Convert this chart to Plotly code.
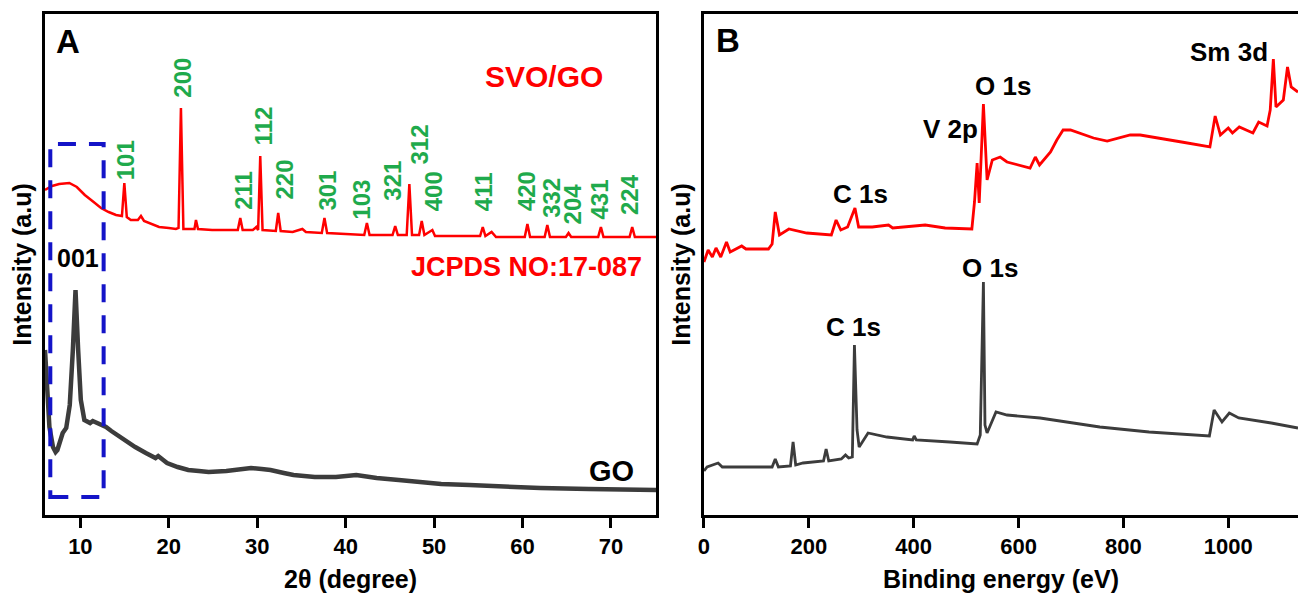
import plotly.graph_objects as go

# ---------------- XRD patterns (panel A) ----------------
svo_go_2theta = [6.0, 6.8, 7.6, 8.75, 9.6, 10.5, 11.5, 12.33, 13.2, 14.03, 14.7, 14.97, 15.25, 15.7,
                 16.5, 16.85, 17.2, 18.0, 18.9, 20.0, 20.8, 21.1, 21.37, 21.65, 22.5, 22.9, 23.07,
                 23.3, 24.9, 27.0, 27.8, 28.08, 28.35, 29.5, 29.9, 30.1, 30.34, 30.6, 31.5, 32.1,
                 32.37, 32.65, 34.0, 35.1, 35.5, 37.3, 37.6, 37.9, 40.0, 42.1, 42.4, 42.7, 45.3,
                 45.6, 45.9, 46.9, 47.2, 47.5, 48.3, 48.6, 48.9, 49.8, 50.1, 53.0, 55.2, 55.5,
                 55.8, 56.5, 57.0, 60.25, 60.55, 60.85, 62.5, 62.8, 63.1, 64.9, 65.2, 65.5, 68.55,
                 68.86, 69.15, 72.1, 72.4, 72.7, 75.1]
svo_go_int = [310, 314, 316, 317, 313, 305, 298, 292, 288, 285, 284, 317, 283, 280,
              280, 284, 279, 276, 273, 272, 271, 272, 392, 271, 271, 271, 280,
              271, 270, 270, 270, 282, 270, 270, 273, 270, 344, 270, 269, 269,
              287, 269, 268, 271, 268, 267, 282, 267, 266, 265, 277, 265, 265,
              274, 265, 265, 316, 265, 265, 279, 265, 270, 264, 264, 264, 273,
              264, 268, 263, 263, 276, 263, 263, 275, 263, 263, 267, 263, 263,
              273, 263, 263, 273, 263, 263]

go_2theta = [6.0, 6.2, 6.5, 6.9, 7.2, 7.4, 7.7, 8.0, 8.4, 8.8, 9.15, 9.45, 9.75, 10.05, 10.45,
             10.8, 11.1, 11.4, 11.7, 12.3, 12.9, 13.5, 14.0, 15.0, 16.2, 17.4, 18.5, 18.8,
             19.8, 21.0, 22.2, 23.4, 24.5, 26.5, 28.0, 29.3, 30.5, 31.5, 33.0, 34.1, 36.5,
             38.9, 41.2, 43.5, 46.0, 48.5, 50.8, 54.0, 57.9, 62.0, 67.5, 72.0, 75.1]
go_int = [150, 110, 73, 53, 48, 50, 58, 67, 72, 95, 150, 210, 150, 100, 80,
          78, 77, 79, 78, 76, 73, 69, 66, 60, 53, 47, 42, 44,
          37, 33, 30, 29, 28, 29, 31, 32, 31, 30, 27, 25, 23,
          23, 25, 22, 20, 18, 16, 15, 13, 12, 11, 10, 10]

# (hkl) reflections, JCPDS NO:17-087
hkl_labels = ["101", "200", "211", "112", "220", "301", "103", "321",
              "312", "400", "411", "420", "332", "204", "431", "224"]
hkl_2theta = [15.08, 21.45, 28.42, 30.75, 32.97, 37.84, 41.7, 45.2,
              48.24, 49.9, 55.6, 60.4, 63.2, 65.7, 68.7, 72.1]
hkl_label_base = [318, 400, 288, 353, 298, 287, 278, 297,
                  333, 287, 287, 287, 280, 274, 279, 283]

# GO (001) region highlighted by the dashed box
go001_box_2theta = [6.6, 12.63]
go001_box_int = [3, 356]

# ---------------- XPS survey spectra (panel B) ----------------
xps_be_svo = [0, 8, 16, 23, 32, 43, 50, 72, 80, 123, 130, 136, 144, 162, 196, 243, 252, 261,
              274, 288, 295, 321, 352, 360, 422, 460, 511, 516, 521, 525, 533, 540, 550,
              565, 578, 622, 632, 640, 661, 673, 685, 699, 743, 769, 813, 832, 911, 965,
              975, 985, 1000, 1008, 1021, 1047, 1058, 1074, 1080, 1086, 1091, 1105, 1113,
              1120, 1133]
xps_int_svo = [238, 250, 243, 252, 243, 258, 248, 254, 251, 251, 256, 288, 265, 271, 267, 265,
               280, 270, 273, 292, 273, 273, 275, 272, 275, 272, 271, 298, 337, 297, 396,
               320, 340, 343, 338, 332, 343, 335, 348, 360, 370, 370, 362, 359, 365, 365,
               358, 353, 384, 365, 372, 367, 373, 367, 378, 374, 390, 441, 393, 400, 433,
               413, 408]

xps_be_go = [0, 6, 27, 35, 130, 136, 142, 165, 170, 175, 189, 228, 233, 238, 262, 270, 276,
             283, 287, 292, 296, 313, 349, 398, 401, 405, 469, 521, 527, 533, 536, 540,
             557, 578, 641, 755, 849, 964, 973, 988, 1002, 1020, 1082, 1133]
xps_int_go = [29, 33, 37, 33, 33, 41, 33, 34, 58, 35, 37, 39, 51, 39, 41, 45, 42,
              43, 155, 70, 53, 67, 63, 60, 64, 60, 58, 56, 65, 218, 75, 67,
              88, 85, 82, 73, 68, 64, 90, 78, 87, 82, 77, 72]

xps_labels = ["Sm 3d", "O 1s", "V 2p", "C 1s", "O 1s", "C 1s"]
xps_label_be = [1001, 571, 470, 298, 546, 285]
xps_label_int = [448, 414, 371, 306, 232, 173]

RED = "#FF0000"
DARK = "#3C3C3C"
GREEN = "#1FAA4C"
BLUE = "#1414C8"
FONT = "Liberation Sans, Arial, sans-serif"

fig = go.Figure()

fig.add_trace(go.Scatter(x=svo_go_2theta, y=svo_go_int, mode="lines",
                         line=dict(color=RED, width=2.5), xaxis="x", yaxis="y"))
fig.add_trace(go.Scatter(x=go_2theta, y=go_int, mode="lines",
                         line=dict(color=DARK, width=4.5), xaxis="x", yaxis="y"))
fig.add_trace(go.Scatter(x=xps_be_svo, y=xps_int_svo, mode="lines",
                         line=dict(color=RED, width=2.8), xaxis="x2", yaxis="y2"))
fig.add_trace(go.Scatter(x=xps_be_go, y=xps_int_go, mode="lines",
                         line=dict(color=DARK, width=2.8), xaxis="x2", yaxis="y2"))

# dashed box around the GO (001) reflection
fig.add_shape(type="rect", xref="x", yref="y",
              x0=go001_box_2theta[0], x1=go001_box_2theta[1],
              y0=go001_box_int[0], y1=go001_box_int[1],
              line=dict(color=BLUE, width=4, dash="18px,13px"))

annotations = []
bold = dict(family=FONT, weight="bold")

for lab, x, y in zip(hkl_labels, hkl_2theta, hkl_label_base):
    annotations.append(dict(x=x, y=y, xref="x", yref="y", text=lab, textangle=-90,
                            showarrow=False, xanchor="center", yanchor="bottom",
                            font=dict(color=GREEN, size=24, **bold)))

annotations += [
    dict(x=0.038, y=0.946, xref="x domain", yref="y domain", text="A", showarrow=False,
         xanchor="center", yanchor="middle", font=dict(color="black", size=33, **bold)),
    dict(x=62.4, y=424, xref="x", yref="y", text="SVO/GO", showarrow=False,
         xanchor="center", yanchor="middle", font=dict(color=RED, size=30, **bold)),
    dict(x=60.4, y=233, xref="x", yref="y", text="JCPDS NO:17-087", showarrow=False,
         xanchor="center", yanchor="middle", font=dict(color=RED, size=27, **bold)),
    dict(x=9.75, y=242, xref="x", yref="y", text="001", showarrow=False,
         xanchor="center", yanchor="middle", font=dict(color="black", size=25, **bold)),
    dict(x=70.1, y=29, xref="x", yref="y", text="GO", showarrow=False,
         xanchor="center", yanchor="middle", font=dict(color="black", size=29, **bold)),
    dict(x=0.041, y=0.948, xref="x2 domain", yref="y2 domain", text="B", showarrow=False,
         xanchor="center", yanchor="middle", font=dict(color="black", size=33, **bold)),
]

for lab, x, y in zip(xps_labels, xps_label_be, xps_label_int):
    annotations.append(dict(x=x, y=y, xref="x2", yref="y2", text=lab, showarrow=False,
                            xanchor="center", yanchor="middle",
                            font=dict(color="black", size=26, **bold)))

axis_common = dict(showline=True, linecolor="black", linewidth=3, showgrid=False,
                   zeroline=False, automargin=False)
xaxis_common = dict(axis_common, ticks="outside", ticklen=10, tickwidth=3, tickcolor="black",
                    tickfont=dict(size=22, color="black", **bold))
yaxis_common = dict(axis_common, showticklabels=False, ticks="", range=[-15, 486],
                    title=dict(text="Intensity (a.u)", standoff=4,
                               font=dict(size=25, color="black", **bold)))

fig.update_layout(
    width=1298, height=593,
    margin=dict(l=45, r=0, t=14, b=78),
    paper_bgcolor="white", plot_bgcolor="white",
    showlegend=False,
    font=dict(family=FONT, color="black"),
    xaxis=dict(xaxis_common, domain=[0, 0.4877], range=[6.0, 75.1], mirror=True,
               tickvals=[10, 20, 30, 40, 50, 60, 70], anchor="y",
               title=dict(text="2θ (degree)", standoff=15,
                          font=dict(size=25, color="black", **bold))),
    yaxis=dict(yaxis_common, domain=[0, 1], anchor="x", mirror=True),
    xaxis2=dict(xaxis_common, domain=[0.5259, 1], range=[0, 1133], mirror=True,
                tickvals=[0, 200, 400, 600, 800, 1000], anchor="y2",
                title=dict(text="Binding energy (eV)", standoff=15,
                           font=dict(size=25, color="black", **bold))),
    yaxis2=dict(yaxis_common, domain=[0, 1], anchor="x2", mirror=False),
    annotations=annotations,
)

fig.write_html("out.html")
